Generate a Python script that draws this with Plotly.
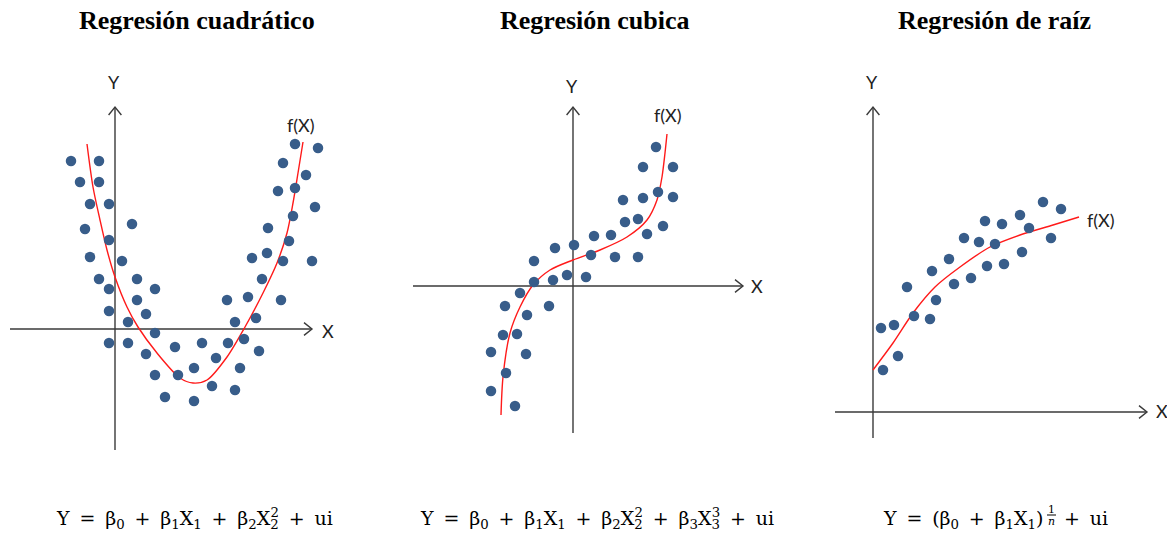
import plotly.graph_objects as go

W, H = 1167, 537

# ---------------- data (local coordinates, origin at axis crossing, y up) ----------------
quad_x = [-44, -16, -35, -16, -25, -6, -30, 17, -6, -25, 7, -16, 22, -6, 40, 22, -6, 31, 13, 40,
          -6, 13, 31, 60, 87, 113, 129, 40, 63, 79, 101, 125, 144, 50, 79, 97, 120, 120, 141, 112,
          133, 166, 147, 137, 152, 168, 197, 174, 153, 178, 200, 163, 180, 191, 168, 180, 203]
quad_y = [168, 168, 147, 147, 125, 125, 100, 105, 89, 72, 68, 50, 50, 40, 40, 29, 18, 15, 7, -4,
          -14, -14, -25, -18, -14, -14, -10, -46, -46, -39, -29, -39, -22, -68, -72, -57, -61, 7, 11, 29,
          32, 29, 50, 71, 76, 68, 68, 88, 101, 113, 122, 138, 141, 154, 166, 185, 181]
quad_fx = [-28, -22, -15, -8, 0, 12, 23, 42, 65, 78, 92, 112, 130, 148, 162, 172, 178, 183, 188]
quad_fy = [185, 142, 109, 79, 52, 22, 2, -24, -49, -54, -51, -28, 2, 36, 66, 96, 126, 156, 187]

cub_x = [83, 70, 100, 85, 70, 100, 50, 52, 65, 90, 74, 21, 38, 1, -18, 18, 42, 65, -39, -6,
         13, -20, -39, -53, -68, -24, -46, -70, -56, -82, -47, -67, -82, -58]
cub_y = [139, 119, 119, 94, 88, 89, 86, 64, 67, 60, 52, 50, 51, 41, 38, 31, 29, 29, 25, 11,
         9, 6, 4, -7, -20, -20, -29, -49, -48, -66, -68, -87, -105, -120]
cub_fx = [-72, -70, -63, -53, -40, -23, 0, 27, 54, 74, 84, 89, 92, 94]
cub_fy = [-129, -91, -47, -21, 1, 16, 26, 36, 49, 66, 86, 109, 133, 152]

raiz_x = [170, 188, 147, 112, 129, 156, 91, 106, 122, 178, 76, 149, 114, 131, 59, 81, 98, 34, 63,
          41, 57, 8, 21, 25, 10]
raiz_y = [210, 203, 197, 191, 188, 184, 174, 170, 168, 174, 153, 160, 146, 148, 141, 128, 134, 125,
          112, 96, 93, 84, 87, 56, 42]
raiz_fx = [0, 20, 40, 62, 87, 117, 147, 180, 206]
raiz_fy = [42, 69, 99, 125, 145, 165, 177, 187, 195]

titles = ["Regresión cuadrático", "Regresión cubica", "Regresión de raíz"]

T = "\u2009"
EQ = f"{T} = {T}"
PL = f"{T} + {T}"
BK = '<span style="letter-spacing:-0.62em">'
formula1 = (f"Y{EQ}β<sub>0</sub>{PL}β<sub>1</sub>X<sub>1</sub>{PL}"
            f"β<sub>2</sub>X<sub>{BK}2</span></sub><sup>2</sup>{PL}ui")
formula2 = (f"Y{EQ}β<sub>0</sub>{PL}β<sub>1</sub>X<sub>1</sub>{PL}"
            f"β<sub>2</sub>X<sub>{BK}2</span></sub><sup>2</sup>{PL}"
            f"β<sub>3</sub>X<sub>{BK}3</span></sub><sup>3</sup>{PL}ui")
formula3_left = f"Y{EQ}(β<sub>0</sub>{PL}β<sub>1</sub>X<sub>1</sub>)"
formula3_right = f"+{T} ui<sub><span style=\"color:rgba(0,0,0,0)\">1</span></sub>"
frac_num, frac_den = "1", "<i>n</i>"

# ---------------- layout of panels (pixel positions) ----------------
panels = [
    dict(origin=(115, 329), xext=(-105, 197), yext=(-121, 222), title_x=197,
         flabel=(301, 125), xlabel=(328, 331), ylabel=(114, 82),
         pts=(quad_x, quad_y), curve=(quad_fx, quad_fy)),
    dict(origin=(573, 286), xext=(-160, 170), yext=(-147, 179), title_x=594,
         flabel=(668, 115), xlabel=(757, 286), ylabel=(572, 86),
         pts=(cub_x, cub_y), curve=(cub_fx, cub_fy)),
    dict(origin=(873, 412), xext=(-38, 274), yext=(-26, 305), title_x=994,
         flabel=(1101, 220), xlabel=(1162, 411), ylabel=(872, 82),
         pts=(raiz_x, raiz_y), curve=(raiz_fx, raiz_fy)),
]

DOT = "#385D8A"
AXC = "#3a3a3a"
fig = go.Figure()
shapes = []
annotations = []

for i, p in enumerate(panels):
    ox, oy = p["origin"]
    cy = H - oy  # canvas y of origin (y up)

    def tx(v):
        return [ox + a for a in v]

    def ty(v):
        return [cy + a for a in v]

    # axes
    x0, x1 = p["xext"]
    y0, y1 = p["yext"]
    shapes.append(dict(type="line", x0=ox + x0, x1=ox + x1, y0=cy, y1=cy,
                       line=dict(color=AXC, width=1.4), layer="below"))
    shapes.append(dict(type="line", x0=ox, x1=ox, y0=cy + y0, y1=cy + y1,
                       line=dict(color=AXC, width=1.4), layer="below"))
    a = 8
    shapes.append(dict(type="path",
                       path=f"M {ox + x1 - a} {cy + a * 0.8} L {ox + x1} {cy} L {ox + x1 - a} {cy - a * 0.8}",
                       line=dict(color=AXC, width=1.4)))
    shapes.append(dict(type="path",
                       path=f"M {ox - a * 0.8} {cy + y1 - a} L {ox} {cy + y1} L {ox + a * 0.8} {cy + y1 - a}",
                       line=dict(color=AXC, width=1.4)))

    # curve and points
    fx, fy = p["curve"]
    fig.add_trace(go.Scatter(x=tx(fx), y=ty(fy), mode="lines",
                             line=dict(color="#FF1A1A", width=1.4, shape="spline", smoothing=0.8),
                             hoverinfo="skip", showlegend=False))
    px, py = p["pts"]
    fig.add_trace(go.Scatter(x=tx(px), y=ty(py), mode="markers",
                             marker=dict(color=DOT, size=10.5, line=dict(width=0)),
                             showlegend=False))

    # labels
    lab_font = dict(family="Lato, Liberation Sans, sans-serif", size=18, color="#222")
    for txt, (lx, ly) in (("X", p["xlabel"]), ("Y", p["ylabel"]), ("f(X)", p["flabel"])):
        annotations.append(dict(x=lx, y=H - ly, xref="x", yref="y", text=txt, showarrow=False,
                                font=lab_font, xanchor="center", yanchor="middle"))

    # title
    annotations.append(dict(x=p["title_x"], y=H - 20, xref="x", yref="y", text=f"<b>{titles[i]}</b>",
                            showarrow=False, xanchor="center", yanchor="middle",
                            font=dict(family="Liberation Serif, Times New Roman, serif", size=26,
                                      color="#000")))

FF = dict(family="DejaVu Serif, serif", size=19, color="#000")
# formulas
annotations.append(dict(x=194, y=H - 518, xref="x", yref="y", text=formula1, showarrow=False,
                        xanchor="center", yanchor="middle", font=FF))
annotations.append(dict(x=597, y=H - 518, xref="x", yref="y", text=formula2, showarrow=False,
                        xanchor="center", yanchor="middle", font=FF))
annotations.append(dict(x=1045, y=H - 505, xref="x", yref="y", text=formula3_left, showarrow=False,
                        xanchor="right", yanchor="top", font=FF))
annotations.append(dict(x=1062, y=H - 505, xref="x", yref="y", text=formula3_right, showarrow=False,
                        xanchor="left", yanchor="top", font=FF))
FR = dict(family="DejaVu Serif, serif", size=11, color="#000")
annotations.append(dict(x=1051, y=H - 509, xref="x", yref="y", text=frac_num, showarrow=False,
                        xanchor="center", yanchor="middle", font=FR))
annotations.append(dict(x=1051, y=H - 521, xref="x", yref="y", text=frac_den, showarrow=False,
                        xanchor="center", yanchor="middle", font=FR))
shapes.append(dict(type="line", x0=1047, x1=1056, y0=H - 515, y1=H - 515,
                   line=dict(color="#000", width=1)))

fig.update_layout(
    width=W, height=H, margin=dict(l=0, r=0, t=0, b=0),
    paper_bgcolor="white", plot_bgcolor="white",
    xaxis=dict(range=[0, W], visible=False, fixedrange=True),
    yaxis=dict(range=[0, H], visible=False, fixedrange=True),
    shapes=shapes, annotations=annotations,
)

fig.write_html("out.html", config={"displayModeBar": False},
               post_script="document.body.style.margin='0';document.body.style.overflow='hidden';")
